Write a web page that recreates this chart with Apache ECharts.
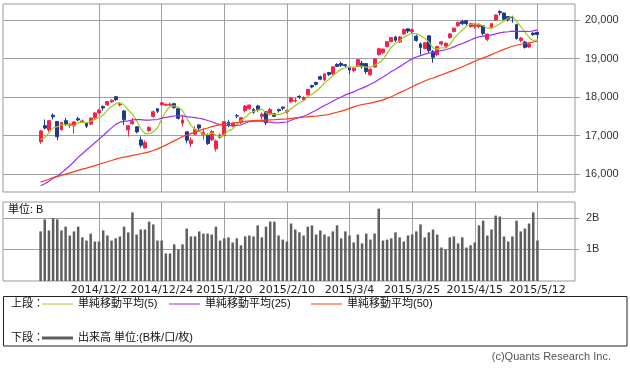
<!DOCTYPE html>
<html><head><meta charset="utf-8">
<script src="https://cdn.jsdelivr.net/npm/echarts@6/dist/echarts.min.js"></script>
<style>html,body{margin:0;padding:0;background:#fff}#c{width:630px;height:372px}</style>
</head><body><div id="c"></div>
<script>
const DATES = [
'2014/11/11','2014/11/12','2014/11/13','2014/11/14','2014/11/17','2014/11/18','2014/11/19','2014/11/20','2014/11/21','2014/11/25','2014/11/26','2014/11/27','2014/11/28',
'2014/12/1','2014/12/2','2014/12/3','2014/12/4','2014/12/5','2014/12/8','2014/12/9','2014/12/10','2014/12/11','2014/12/12','2014/12/15','2014/12/16','2014/12/17','2014/12/18','2014/12/19','2014/12/22','2014/12/24','2014/12/25','2014/12/26','2014/12/29','2014/12/30',
'2015/1/5','2015/1/6','2015/1/7','2015/1/8','2015/1/9','2015/1/13','2015/1/14','2015/1/15','2015/1/16','2015/1/19','2015/1/20','2015/1/21','2015/1/22','2015/1/23','2015/1/26','2015/1/27','2015/1/28','2015/1/29','2015/1/30',
'2015/2/2','2015/2/3','2015/2/4','2015/2/5','2015/2/6','2015/2/9','2015/2/10','2015/2/12','2015/2/13','2015/2/16','2015/2/17','2015/2/18','2015/2/19','2015/2/20','2015/2/23','2015/2/24','2015/2/25','2015/2/26','2015/2/27',
'2015/3/2','2015/3/3','2015/3/4','2015/3/5','2015/3/6','2015/3/9','2015/3/10','2015/3/11','2015/3/12','2015/3/13','2015/3/16','2015/3/17','2015/3/18','2015/3/19','2015/3/20','2015/3/23','2015/3/24','2015/3/25','2015/3/26','2015/3/27','2015/3/30','2015/3/31',
'2015/4/1','2015/4/2','2015/4/3','2015/4/6','2015/4/7','2015/4/8','2015/4/9','2015/4/10','2015/4/13','2015/4/14','2015/4/15','2015/4/16','2015/4/17','2015/4/20','2015/4/21','2015/4/22','2015/4/23','2015/4/24','2015/4/27','2015/4/28','2015/4/30',
'2015/5/1','2015/5/7','2015/5/8','2015/5/11','2015/5/12'];

const OPEN = [16840,17260,17150,17530,17370,17150,17390,17270,17250,17440,17360,17320,17300,17470,17590,17760,17800,17880,18010,17800,17640,17150,17310,17230,16890,16680,17130,17500,17700,17800,17790,17790,17830,17700,17325,17100,16800,17040,17280,17030,17010,16890,16660,16960,17000,17350,17250,17520,17350,17650,17700,17680,17770,17500,17620,17560,17570,17680,17740,17620,17880,17900,18020,17930,18060,18300,18380,18530,18450,18640,18600,18850,18870,18840,18760,18690,18800,18880,18870,18580,18780,19100,19150,19310,19440,19560,19430,19640,19770,19700,19580,19380,19260,19590,19180,19100,19380,19320,19540,19700,19850,19960,19980,19830,19840,19830,19850,19500,19800,20000,20220,20180,20090,20070,19880,19470,19430,19300,19660,19680];
const CLOSE = [17124,17197,17392,17490,16973,17344,17288,17300,17357,17407,17383,17248,17459,17590,17663,17720,17887,17920,17935,17813,17412,17257,17371,17099,16755,16819,17210,17621,17635,17854,17818,17818,17729,17450,17408,16883,16885,17167,17197,17087,16795,17108,16864,17014,17366,17280,17329,17511,17468,17768,17795,17606,17674,17558,17335,17678,17504,17648,17711,17652,17979,17913,18004,17987,18199,18264,18332,18466,18603,18585,18785,18797,18826,18815,18703,18751,18971,18790,18665,18723,18991,19254,19246,19437,19544,19476,19560,19754,19713,19746,19471,19285,19411,19206,19034,19312,19435,19397,19640,19789,19937,19907,19905,19908,19869,19885,19652,19634,19909,20133,20187,20020,20020,20058,19520,19531,19291,19379,19620,19624];
const LOW = [16790,17160,17100,17420,16880,17140,17250,17200,17050,17380,17320,17200,17280,17430,17560,17650,17770,17850,17900,17760,17280,16980,17290,17060,16690,16670,17100,17470,17590,17780,17770,17780,17700,17420,17240,16808,16710,17010,17130,16900,16760,16860,16590,16920,16990,17220,17220,17450,17300,17600,17680,17570,17620,17420,17270,17530,17480,17600,17660,17580,17850,17860,17950,17900,18050,18230,18300,18440,18420,18550,18580,18780,18780,18780,18600,18640,18790,18740,18600,18550,18760,19080,19120,19290,19420,19430,19400,19620,19660,19640,19440,19100,19240,19150,18890,19060,19330,19280,19520,19680,19820,19870,19860,19800,19780,19790,19600,19450,19780,19980,20120,20000,19960,19930,19490,19420,19260,19280,19590,19520];
const HIGH = [17150,17420,17400,17580,17380,17360,17460,17330,17380,17490,17420,17340,17470,17610,17700,17780,17900,17940,18030,17860,17670,17280,17460,17250,16980,16880,17250,17650,17710,17870,17830,17860,17850,17720,17540,17110,16960,17240,17290,17180,17060,17150,16900,17060,17380,17400,17340,17560,17480,17790,17800,17720,17800,17600,17640,17720,17590,17700,17760,17680,18000,17990,18050,18020,18210,18320,18400,18560,18620,18650,18800,18880,18920,18860,18780,18780,18990,18940,18880,18750,19000,19280,19260,19440,19560,19590,19590,19780,19780,19778,19620,19420,19420,19600,19220,19330,19460,19420,19660,19800,19960,20007,19990,19930,19920,19900,19860,19650,19920,20140,20252,20190,20100,20110,19890,19560,19460,19420,19680,19690];

const VOLUME = [1.57,1.95,1.60,1.99,1.95,1.60,1.72,1.44,1.57,1.72,1.38,1.28,1.50,1.25,1.25,1.60,1.44,1.28,1.35,1.41,1.72,1.54,2.17,1.47,1.63,1.63,1.88,1.79,1.28,1.28,0.87,0.87,1.16,1.00,1.16,1.66,1.41,1.41,1.57,1.50,1.50,1.47,1.72,1.28,1.35,1.38,1.22,1.35,1.13,1.41,1.44,1.41,1.76,1.38,1.72,1.88,1.88,1.44,1.31,1.25,1.82,1.63,1.54,1.44,1.72,1.76,1.47,1.60,1.47,1.41,1.57,1.76,1.35,1.57,1.44,1.22,1.47,1.19,1.50,1.31,1.50,2.29,1.28,1.31,1.35,1.54,1.38,1.25,1.44,1.47,1.57,1.79,1.38,1.54,1.63,1.47,1.06,1.00,1.38,1.41,1.19,1.38,1.06,1.13,1.22,1.76,1.91,1.44,1.63,2.07,2.04,1.41,1.25,1.41,1.91,1.57,1.66,1.82,2.17,1.28];

const MA5 = [16903,16955,17075,17197,17235,17279,17297,17279,17252,17339,17347,17339,17371,17417,17469,17536,17664,17756,17825,17855,17793,17667,17558,17390,17179,17060,17051,17101,17208,17428,17628,17749,17771,17734,17645,17458,17271,17159,17108,17044,17026,17071,17010,16974,17029,17126,17171,17300,17391,17471,17574,17630,17662,17680,17594,17570,17550,17545,17575,17639,17699,17781,17852,17907,18016,18073,18157,18250,18373,18450,18554,18647,18719,18762,18785,18778,18813,18806,18776,18780,18828,18885,18976,19130,19294,19391,19453,19554,19609,19650,19649,19594,19525,19424,19281,19250,19280,19277,19364,19515,19640,19734,19836,19889,19905,19895,19844,19790,19790,19843,19903,19977,20054,20084,19961,19830,19684,19556,19468,19489];
const MA25 = [15703,15755,15820,15900,15955,16037,16131,16220,16325,16440,16531,16629,16719,16817,16912,17006,17108,17203,17294,17350,17372,17384,17408,17416,17415,17403,17404,17413,17419,17454,17473,17494,17511,17515,17515,17495,17480,17469,17453,17430,17393,17362,17320,17283,17265,17260,17262,17268,17283,17323,17362,17378,17380,17377,17357,17351,17338,17335,17346,17355,17399,17440,17474,17505,17550,17609,17658,17722,17785,17834,17894,17953,18005,18059,18097,18135,18190,18234,18279,18334,18387,18457,18520,18590,18665,18725,18791,18861,18930,18992,19040,19078,19116,19140,19158,19179,19205,19228,19261,19304,19351,19389,19434,19483,19529,19565,19581,19596,19615,19639,19667,19686,19696,19710,19701,19703,19704,19702,19719,19742];
const MA50 = [15797,15832,15872,15912,15938,15970,16003,16035,16068,16101,16133,16160,16190,16224,16259,16292,16324,16358,16393,16422,16446,16465,16489,16509,16531,16553,16580,16616,16659,16705,16755,16813,16866,16920,16978,17013,17055,17094,17135,17171,17199,17235,17261,17288,17307,17316,17323,17338,17350,17369,17383,17391,17397,17398,17405,17412,17416,17423,17430,17435,17447,17460,17471,17479,17490,17501,17510,17521,17534,17549,17577,17608,17637,17671,17710,17749,17784,17807,17828,17845,17869,17897,17928,17968,18010,18062,18116,18167,18218,18271,18324,18368,18419,18463,18496,18537,18579,18617,18660,18700,18743,18789,18834,18881,18932,18976,19019,19058,19102,19152,19196,19238,19279,19320,19346,19372,19391,19409,19430,19450];

const TICK_LABELS = ['2014/12/2','2014/12/24','2015/1/20','2015/2/10','2015/3/4','2015/3/25','2015/4/15','2015/5/12'];
const PRICE_TICKS = [16000,17000,18000,19000,20000];
const VOLUME_TICKS = [1,2];

const NAME_MA5 = '単純移動平均(5)';
const NAME_MA25 = '単純移動平均(25)';
const NAME_MA50 = '単純移動平均(50)';
const NAME_VOL = '出来高 単位:(B株/口/枚)';

const PAD = 9;
const CATS = Array.from({length: PAD}, (_, i) => 'padL' + i)
  .concat(DATES, Array.from({length: PAD}, (_, i) => 'padR' + i));
const SOURCE = DATES.map((d, i) => [d, OPEN[i], CLOSE[i], LOW[i], HIGH[i], VOLUME[i], MA5[i], MA25[i], MA50[i]]);

const GRID_LINE = '#a0a0a0';
const FONT = "'Liberation Sans', 'Noto Sans CJK JP', sans-serif";
const isTick = (i, v) => TICK_LABELS.indexOf(v) >= 0;
const legendText = {fontSize: 11, color: '#111', lineHeight: 14};

const chart = echarts.init(document.getElementById('c'));
chart.setOption({
  animation: false,
  backgroundColor: '#fff',
  textStyle: {fontFamily: FONT},
  dataset: {
    dimensions: ['date','open','close','low','high','vol','ma5','ma25','ma50'],
    source: SOURCE
  },
  grid: [
    {left: 3, top: 4, width: 572, height: 188, show: true, borderColor: '#999', borderWidth: 1, outerBoundsMode: 'none'},
    {left: 3, top: 202, width: 572, height: 79, show: true, borderColor: '#999', borderWidth: 1, outerBoundsMode: 'none'}
  ],
  xAxis: [
    {type: 'category', gridIndex: 0, data: CATS, boundaryGap: false,
     axisLine: {show: false}, axisTick: {show: false}, axisLabel: {show: false},
     splitLine: {show: true, interval: isTick, lineStyle: {color: GRID_LINE, width: 1}}},
    {type: 'category', gridIndex: 1, data: CATS, boundaryGap: false,
     axisLine: {show: false}, axisTick: {show: false},
     axisLabel: {show: true, interval: isTick, margin: 4, fontSize: 11, color: '#222', fontFamily: "'DejaVu Sans', sans-serif"},
     splitLine: {show: true, interval: isTick, lineStyle: {color: GRID_LINE, width: 1}}}
  ],
  yAxis: [
    {type: 'value', gridIndex: 0, position: 'right', min: 15540, max: 20415,
     splitNumber: 5, minInterval: 1000, maxInterval: 1000, scale: true,
     axisLine: {show: false},
     axisTick: {show: true, length: 5, customValues: PRICE_TICKS, lineStyle: {color: GRID_LINE}},
     axisLabel: {show: true, margin: 10, fontSize: 11, color: '#333', customValues: PRICE_TICKS,
       formatter: v => (v % 1000 === 0 ? v.toLocaleString('en-US') : '')},
     splitLine: {show: true, lineStyle: {color: GRID_LINE, width: 1}}},
    {type: 'value', gridIndex: 1, position: 'right', min: 0, max: 2.5, interval: 1,
     axisLine: {show: false},
     axisTick: {show: true, length: 4, customValues: VOLUME_TICKS, lineStyle: {color: GRID_LINE}},
     axisLabel: {show: true, margin: 11, fontSize: 11, color: '#333', customValues: VOLUME_TICKS,
       formatter: v => (v === 1 || v === 2 ? v + 'B' : '')},
     splitLine: {show: true, lineStyle: {color: GRID_LINE, width: 1}}}
  ],
  legend: [
    {data: [NAME_MA5], left: 42, top: 297, padding: 0, icon: 'rect', itemWidth: 31, itemHeight: 1, selectedMode: false, textStyle: legendText},
    {data: [NAME_MA25], left: 169, top: 297, padding: 0, icon: 'rect', itemWidth: 31, itemHeight: 1, selectedMode: false, textStyle: legendText},
    {data: [NAME_MA50], left: 311, top: 297, padding: 0, icon: 'rect', itemWidth: 31, itemHeight: 1, selectedMode: false, textStyle: legendText},
    {data: [NAME_VOL], left: 42, top: 331, padding: 0, icon: 'rect', itemWidth: 31, itemHeight: 3, selectedMode: false, textStyle: legendText}
  ],
  graphic: [
    {type: 'rect', shape: {x: 3.5, y: 296.5, width: 623.5, height: 49.5}, style: {fill: 'none', stroke: '#222', lineWidth: 1}, silent: true},
    {type: 'text', x: 11, y: 304, style: {text: '上段：', fontSize: 11, fill: '#111', verticalAlign: 'middle', fontFamily: FONT}},
    {type: 'text', x: 11, y: 338, style: {text: '下段：', fontSize: 11, fill: '#111', verticalAlign: 'middle', fontFamily: FONT}},
    {type: 'text', x: 8, y: 210, style: {text: '単位: B', fontSize: 11, fill: '#111', verticalAlign: 'middle', fontFamily: FONT}},
    {type: 'text', x: 611, y: 357, style: {text: '(c)Quants Research Inc.', fontSize: 11, fill: '#555', align: 'right', verticalAlign: 'middle', fontFamily: FONT}}
  ],
  series: [
    {type: 'candlestick', name: '株価', xAxisIndex: 0, yAxisIndex: 0, barWidth: 3.4,
     encode: {x: 'date', y: ['open','close','low','high']},
     itemStyle: {color: '#f5224c', color0: '#1d3b8e', borderColor: '#f5224c', borderColor0: '#1d3b8e', borderWidth: 1}},
    {type: 'line', name: NAME_MA5, xAxisIndex: 0, yAxisIndex: 0, encode: {x: 'date', y: 'ma5'},
     showSymbol: false, symbol: 'none', smooth: 0.25, color: '#9ccc1c',
     lineStyle: {color: '#9ccc1c', width: 1.2}, itemStyle: {color: '#9ccc1c'}},
    {type: 'line', name: NAME_MA25, xAxisIndex: 0, yAxisIndex: 0, encode: {x: 'date', y: 'ma25'},
     showSymbol: false, symbol: 'none', color: '#9b30f5',
     lineStyle: {color: '#9b30f5', width: 1.2}, itemStyle: {color: '#9b30f5'}},
    {type: 'line', name: NAME_MA50, xAxisIndex: 0, yAxisIndex: 0, encode: {x: 'date', y: 'ma50'},
     showSymbol: false, symbol: 'none', color: '#ff3a14',
     lineStyle: {color: '#ff3a14', width: 1.2}, itemStyle: {color: '#ff3a14'}},
    {type: 'bar', name: NAME_VOL, xAxisIndex: 1, yAxisIndex: 1, encode: {x: 'date', y: 'vol'},
     barWidth: 2.5, color: '#5e5e5e', itemStyle: {color: '#5e5e5e'}}
  ]
});
</script>
</body></html>
